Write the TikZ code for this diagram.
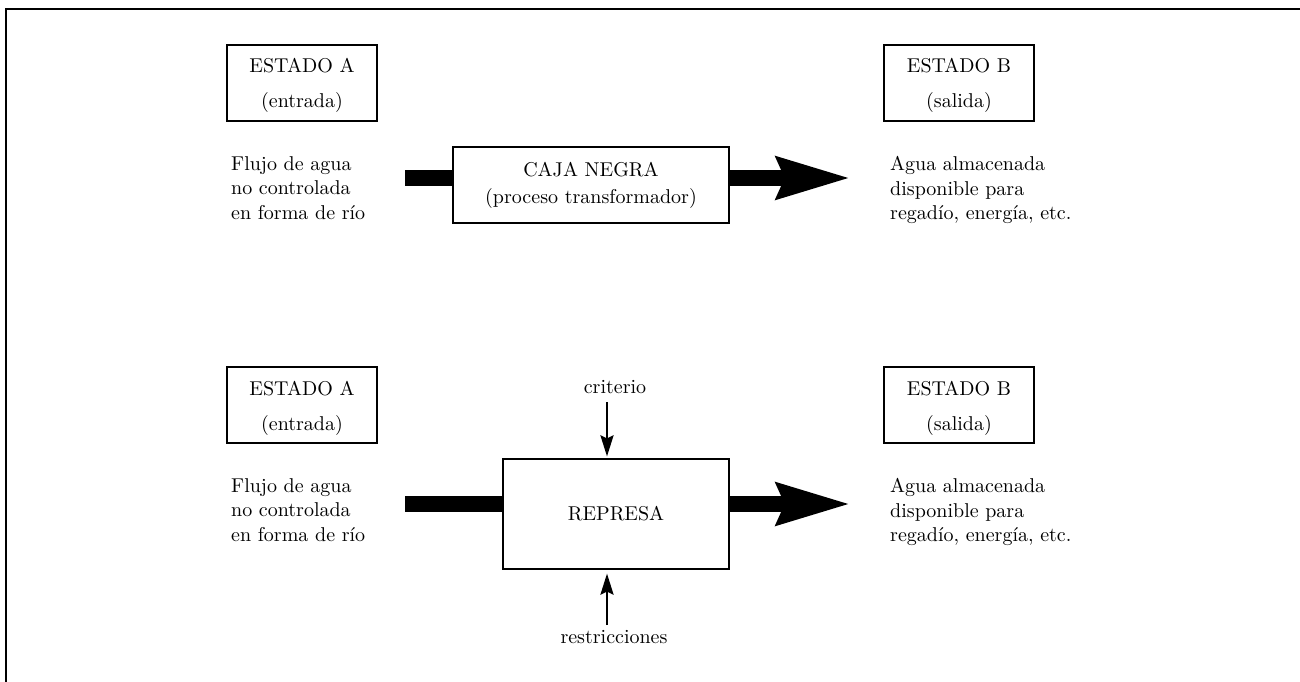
\documentclass[tikz,border=0pt]{standalone}
\usepackage{fontspec}
\setmainfont{lmroman10-regular}[Extension=.otf]
\usetikzlibrary{arrows.meta,calc}
\begin{document}
\begin{tikzpicture}[x=1pt,y=-1pt,
  every node/.style={font=\fontsize{20}{24.6}\selectfont, inner sep=0pt},
  statebox/.style={draw, line width=1.2pt, minimum width=150pt, minimum height=76pt, align=center, font=\fontsize{20}{35}\selectfont},
  procbox/.style={draw, line width=1.2pt, minimum height=76pt, align=center, font=\fontsize{20}{27}\selectfont},
  desc/.style={anchor=north west, align=left},
  bar/.style={line width=16pt},
  bigarrow/.style={line width=16pt, -{Stealth[length=73pt,width=40pt,inset=7pt]}},
  thinarrow/.style={line width=2.4pt, -{Stealth[length=21pt,width=13pt,inset=3pt]}}
]
\useasboundingbox (0,0) rectangle (1300,682);
\draw[line width=2pt] (6,682) -- (6,9) -- (1300,9);

% top row
\node[statebox] (ea1) at (302,83) {\rule{0pt}{20pt}ESTADO A\\(entrada)};
\node[statebox] (eb1) at (959,83) {\rule{0pt}{20pt}ESTADO B\\(salida)};
\node[desc] (fa1) at (231,156) {Flujo de agua\\no controlada\\en forma de río};
\node[desc] (ag1) at (890,156) {Agua almacenada\\disponible para\\regadío, energía, etc.};
\node[procbox, minimum width=276pt] (caja) at (591,185) {CAJA NEGRA\\(proceso transformador)};
\coordinate (s1) at (405,178);
\coordinate (t1) at (851,178);
\draw[bar] (s1) -- (s1 -| caja.west);
\draw[bigarrow] (caja.east |- t1) -- (t1);

% bottom row
\node[statebox] (ea2) at (302,405) {\rule{0pt}{20pt}ESTADO A\\(entrada)};
\node[statebox] (eb2) at (959,405) {\rule{0pt}{20pt}ESTADO B\\(salida)};
\node[desc] (fa2) at (231,478) {Flujo de agua\\no controlada\\en forma de río};
\node[desc] (ag2) at (890,478) {Agua almacenada\\disponible para\\regadío, energía, etc.};
\node[procbox, minimum width=226pt, minimum height=110pt] (rep) at (616,514) {REPRESA};
\coordinate (s2) at (405,504);
\coordinate (t2) at (851,504);
\draw[bar] (s2) -- (s2 -| rep.west);
\draw[bigarrow] (rep.east |- t2) -- (t2);

\node[anchor=base] (crit) at (615,393) {criterio};
\node[anchor=base] (rest) at (614,643) {restricciones};
\coordinate (ax) at (607,0);
\draw[thinarrow, shorten <=9pt, shorten >=2pt] (crit.south -| ax) -- (rep.north -| ax);
\draw[thinarrow, shorten <=4.5pt, shorten >=4pt] (rest.north -| ax) -- (rep.south -| ax);
\end{tikzpicture}
\end{document}
